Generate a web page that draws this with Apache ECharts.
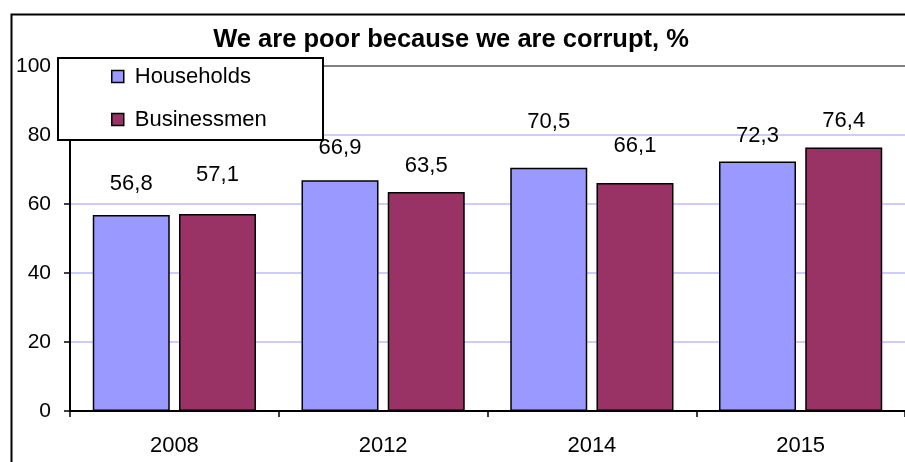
<!DOCTYPE html>
<html><head><meta charset="utf-8">
<script src="https://cdn.jsdelivr.net/npm/echarts@6/dist/echarts.min.js"></script>
<style>html,body{margin:0;padding:0;background:#fff}#c{width:905px;height:462px}</style>
</head><body><div id="c"></div>
<script>
const categories = ['2008', '2012', '2014', '2015'];
const households = [56.8, 66.9, 70.5, 72.3];
const businessmen = [57.1, 63.5, 66.1, 76.4];
const seriesNames = ['Households', 'Businessmen'];
const titleText = 'We are poor because we are corrupt, %';

// extra vertical lift of each data label (layout only, in px)
const liftHouseholds = [5, 6, 20, 0];
const liftBusinessmen = [13, 0, 11, 0];

const chart = echarts.init(document.getElementById('c'));
const font = 'Liberation Sans, Arial, sans-serif';
const baseLabel = {
  show: true, position: 'top', distance: 15,
  fontFamily: font, fontSize: 22, color: '#000',
  formatter: p => p.value.toFixed(1).replace('.', ',')
};
function items(vals, lifts) {
  return vals.map((v, i) => ({ value: v, label: { offset: [0, -lifts[i]] } }));
}
chart.setOption({
  animation: false,
  backgroundColor: '#fff',
  title: {
    text: titleText, left: 446, textAlign: 'center', top: 22,
    textStyle: { fontFamily: font, fontSize: 25.5, fontWeight: 'bold', color: '#000' }
  },
  graphic: [
    { type: 'rect', left: 9, top: 12, shape: { width: 1000, height: 600 },
      style: { fill: 'none', stroke: '#000', lineWidth: 2 }, z: 100, silent: true },
    { type: 'rect', left: 57, top: 57, shape: { width: 265, height: 82 },
      style: { fill: '#fff', stroke: '#000', lineWidth: 2 }, z: 10, silent: true }
  ],
  legend: {
    left: 111, top: 65.5, orient: 'vertical', itemGap: 21, padding: 0,
    icon: 'rect',
    itemWidth: 12, itemHeight: 12, itemStyle: { borderColor: '#000', borderWidth: 1.5 },
    textStyle: { fontFamily: font, fontSize: 22, color: '#000', padding: [0, 0, 0, 6] },
    data: seriesNames, z: 11
  },
  grid: { left: 70, top: 66, right: -7, bottom: 51 },
  xAxis: {
    type: 'category', data: categories,
    axisLine: { lineStyle: { color: '#000', width: 2 } },
    axisTick: { show: true, length: 6, lineStyle: { color: '#000', width: 1.5 } },
    axisLabel: { fontFamily: font, fontSize: 22, color: '#000', margin: 24 }
  },
  yAxis: {
    type: 'value', min: 0, max: 100, interval: 20,
    axisLine: { show: true, lineStyle: { color: '#000', width: 2 } },
    axisTick: { show: true, length: 6, lineStyle: { color: '#000', width: 1.5 } },
    axisLabel: { fontFamily: font, fontSize: 21, color: '#000', margin: 19 },
    splitLine: { show: true, lineStyle: {
      color: ['#ffffff', '#ccccff', '#ccccff', '#ccccff', '#ccccff', '#808080'], width: 2 } }
  },
  series: [
    { name: seriesNames[0], type: 'bar', data: items(households, liftHouseholds),
      barWidth: 77, barGap: '12%',
      itemStyle: { color: '#9999ff', borderColor: '#000', borderWidth: 1.5 }, label: baseLabel },
    { name: seriesNames[1], type: 'bar', data: items(businessmen, liftBusinessmen),
      barWidth: 77,
      itemStyle: { color: '#993366', borderColor: '#000', borderWidth: 1.5 }, label: baseLabel }
  ]
});
</script></body></html>
